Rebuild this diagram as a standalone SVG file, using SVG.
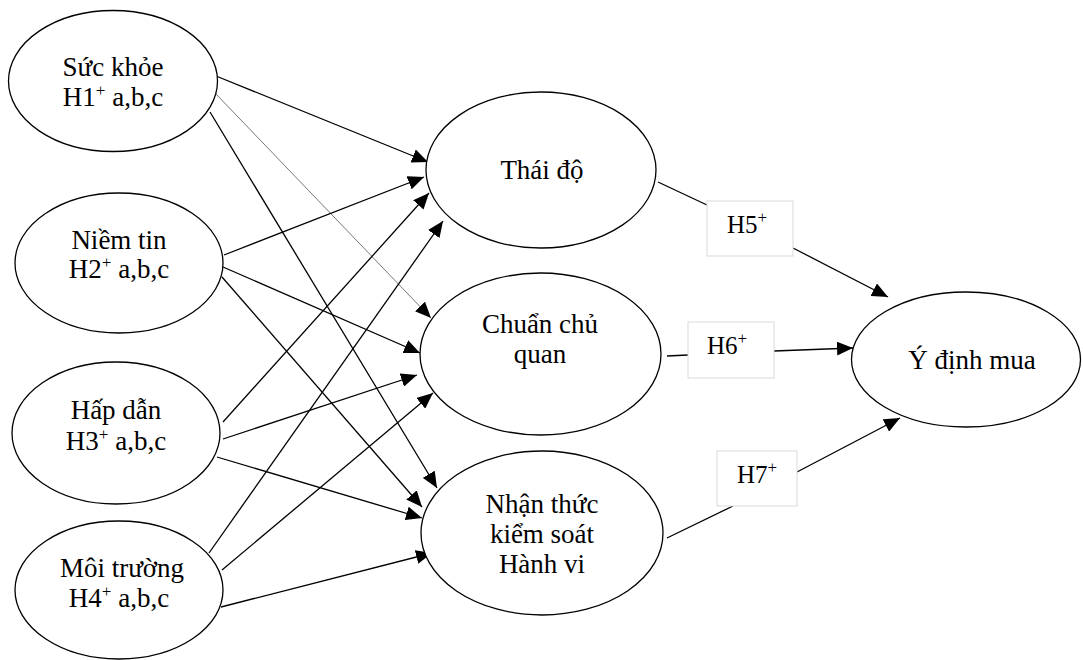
<svg xmlns="http://www.w3.org/2000/svg" width="1083" height="660" viewBox="0 0 1083 660">
<style>
.node{fill:#fff;stroke:#000;stroke-width:1.3}
.t{font-family:"Liberation Serif","Times New Roman",serif;font-size:27px;fill:#000;text-anchor:middle}
.lb{font-family:"Liberation Serif","Times New Roman",serif;font-size:25px;fill:#000}
.sup{font-size:17px}
.box{fill:#fff;stroke:#d9d9d9;stroke-width:1}
.c{stroke:#000;stroke-width:1.3;fill:none}
.a{marker-end:url(#ah)}
.thin{stroke:#555;stroke-width:0.8}
</style>
<defs>
<marker id="ah" markerUnits="userSpaceOnUse" markerWidth="16" markerHeight="14" refX="16" refY="7" orient="auto">
<path d="M0,0 L16,7 L0,14 Z" fill="#000"/>
</marker>
</defs>
<rect width="1083" height="660" fill="#fff"/>
<g id="connectors">
<line class="c a" x1="216" y1="76" x2="428" y2="162"/>
<line class="c a thin" x1="215" y1="93" x2="431" y2="318"/>
<line class="c a" x1="210" y1="112" x2="437" y2="488"/>
<line class="c a" x1="224" y1="255" x2="424" y2="177"/>
<line class="c a" x1="223" y1="267" x2="420" y2="353"/>
<line class="c a" x1="222" y1="277" x2="422" y2="507"/>
<line class="c a" x1="223" y1="422" x2="429" y2="193"/>
<line class="c a" x1="223" y1="439" x2="417" y2="375"/>
<line class="c a" x1="217" y1="457" x2="422" y2="518"/>
<line class="c a" x1="209" y1="553" x2="443" y2="221"/>
<line class="c a" x1="222" y1="570" x2="433" y2="393"/>
<line class="c a" x1="221" y1="607" x2="432" y2="553"/>
<line class="c" x1="658" y1="182" x2="707" y2="205"/>
<line class="c a" x1="793" y1="248" x2="888" y2="297"/>
<line class="c" x1="667" y1="356" x2="688" y2="355"/>
<line class="c a" x1="774" y1="351" x2="853" y2="348"/>
<line class="c" x1="667" y1="538" x2="733" y2="506"/>
<line class="c a" x1="797" y1="472" x2="900" y2="418"/>
</g>
<g id="n-suckhoe">
<ellipse class="node" cx="113" cy="81" rx="104.5" ry="70.5"/>
<text class="t" x="113" y="76">Sức khỏe</text>
<text class="t" x="113" y="106">H1<tspan class="sup" dy="-10">+</tspan><tspan dy="10"> a,b,c</tspan></text>
</g>
<g id="n-niemtin">
<ellipse class="node" cx="119" cy="263" rx="104" ry="70"/>
<text class="t" x="119" y="249">Niềm tin</text>
<text class="t" x="119" y="278">H2<tspan class="sup" dy="-10">+</tspan><tspan dy="10"> a,b,c</tspan></text>
</g>
<g id="n-hapdan">
<ellipse class="node" cx="116" cy="433" rx="104" ry="71"/>
<text class="t" x="116" y="419">Hấp dẫn</text>
<text class="t" x="116" y="450">H3<tspan class="sup" dy="-10">+</tspan><tspan dy="10"> a,b,c</tspan></text>
</g>
<g id="n-moitruong">
<ellipse class="node" cx="119" cy="590" rx="104" ry="69"/>
<text class="t" x="122" y="577">Môi trường</text>
<text class="t" x="119" y="607">H4<tspan class="sup" dy="-10">+</tspan><tspan dy="10"> a,b,c</tspan></text>
</g>
<g id="n-thaido">
<ellipse class="node" cx="541" cy="170" rx="115" ry="78"/>
<text class="t" x="542" y="179">Thái độ</text>
</g>
<g id="n-chuanchuquan">
<ellipse class="node" cx="540.5" cy="354" rx="120.5" ry="81"/>
<text class="t" x="540" y="333">Chuẩn chủ</text>
<text class="t" x="540" y="363">quan</text>
</g>
<g id="n-nhanthuc">
<ellipse class="node" cx="542" cy="533" rx="121" ry="82"/>
<text class="t" x="542" y="513">Nhận thức</text>
<text class="t" x="542" y="543">kiểm soát</text>
<text class="t" x="542" y="573">Hành vi</text>
</g>
<g id="n-ydinhmua">
<ellipse class="node" cx="966" cy="359.5" rx="114.5" ry="67.5"/>
<text class="t" x="972" y="369">Ý định mua</text>
</g>
<g id="l-h5">
<rect class="box" x="707" y="201" width="86" height="55"/>
<text class="lb" x="727" y="233">H5<tspan class="sup" dy="-10">+</tspan></text>
</g>
<g id="l-h6">
<rect class="box" x="688" y="322" width="86" height="56"/>
<text class="lb" x="707" y="354">H6<tspan class="sup" dy="-10">+</tspan></text>
</g>
<g id="l-h7">
<rect class="box" x="717" y="451" width="80" height="55"/>
<text class="lb" x="737" y="483">H7<tspan class="sup" dy="-10">+</tspan></text>
</g>
</svg>
